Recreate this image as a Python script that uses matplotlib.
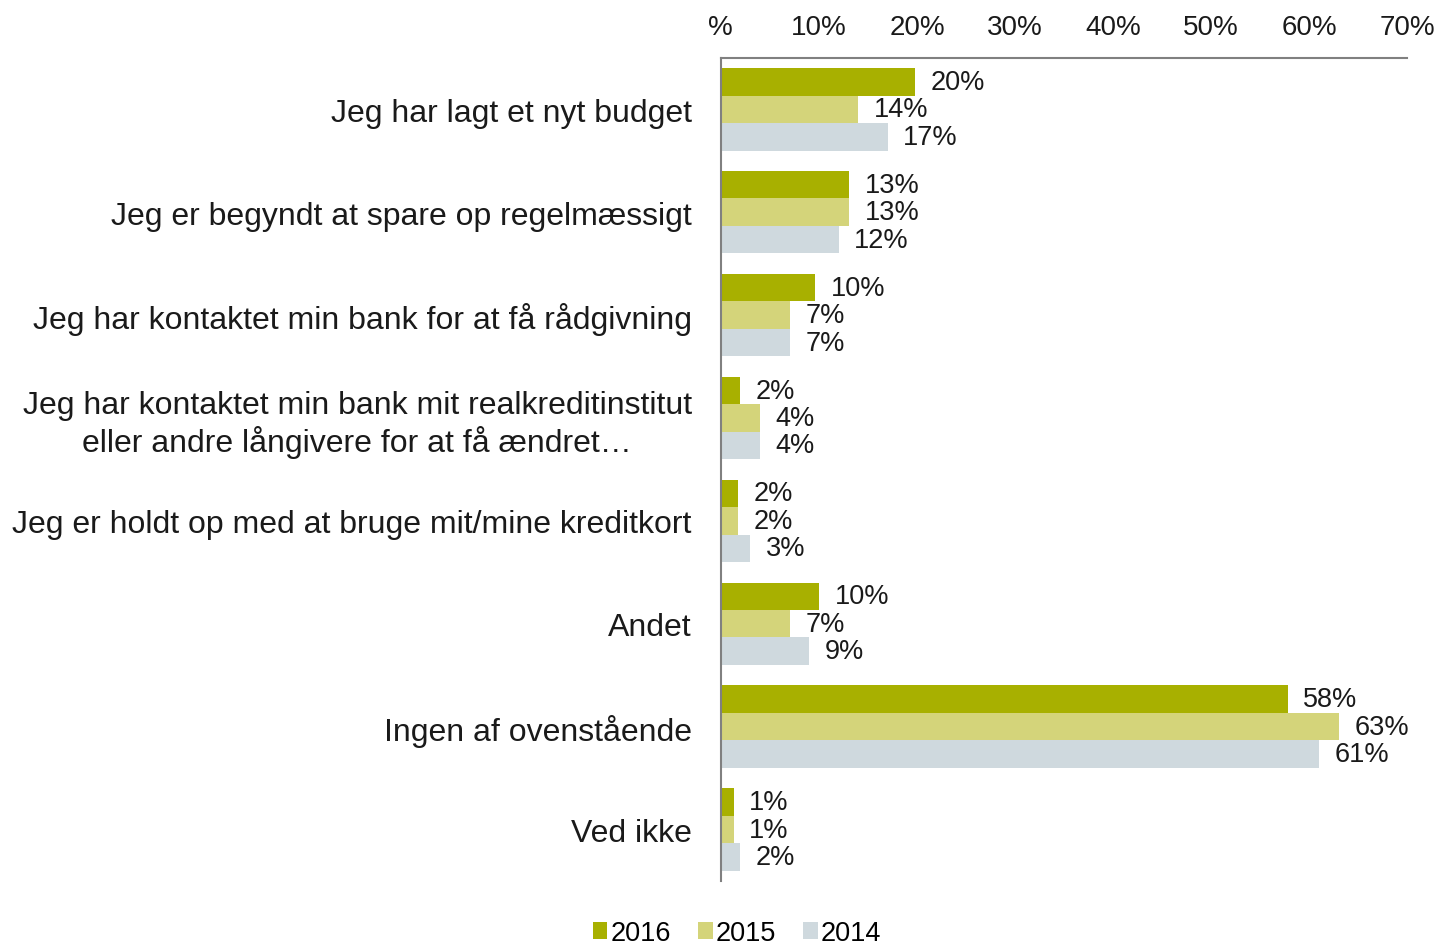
import matplotlib.pyplot as plt
import numpy as np

plt.rcParams['font.family'] = ['Liberation Sans', 'DejaVu Sans']

categories = [
    "Jeg har lagt et nyt budget",
    "Jeg er begyndt at spare op regelmæssigt",
    "Jeg har kontaktet min bank for at få rådgivning",
    "Jeg har kontaktet min bank mit realkreditinstitut\neller andre långivere for at få ændret…",
    "Jeg er holdt op med at bruge mit/mine kreditkort",
    "Andet",
    "Ingen af ovenstående",
    "Ved ikke",
]
years = ["2016", "2015", "2014"]
vals_2016 = [19.8, 13.1, 9.6, 1.9, 1.7, 10.0, 57.8, 1.3]
vals_2015 = [14.0, 13.1, 7.0, 4.0, 1.7, 7.0, 63.0, 1.3]
vals_2014 = [17.0, 12.0, 7.0, 4.0, 3.0, 9.0, 61.0, 1.9]
labels_2016 = ["20%", "13%", "10%", "2%", "2%", "10%", "58%", "1%"]
labels_2015 = ["14%", "13%", "7%", "4%", "2%", "7%", "63%", "1%"]
labels_2014 = ["17%", "12%", "7%", "4%", "3%", "9%", "61%", "2%"]
colors = ["#a8b000", "#d4d47a", "#cfd9de"]

series = [vals_2016, vals_2015, vals_2014]
series_labels = [labels_2016, labels_2015, labels_2014]

fig = plt.figure(figsize=(14.36, 9.45), dpi=100)
ax = fig.add_axes([0.502, 0.0667, 0.478, 0.871])

y = np.arange(len(categories))
h = 0.267
for i, (vals, labs) in enumerate(zip(series, series_labels)):
    pos = y - h + i * h
    ax.barh(pos, vals, height=h, color=colors[i], label=years[i])
    for p, v, l in zip(pos, vals, labs):
        ax.text(v + 1.6, p, l, va="center", ha="left", fontsize=19.5, color="#1a1a1a")

ax.set_xlim(0, 70)
ax.set_ylim(len(categories) - 0.5, -0.5)
ax.xaxis.tick_top()
ax.set_xticks(range(0, 71, 10))
ax.set_xticklabels(["%"] + [f"{t}%" for t in range(10, 71, 10)])
ax.set_yticks(y)
ax.set_yticklabels(categories, fontsize=23, multialignment="center")
ax.tick_params(axis="x", length=0, labelsize=20, pad=13, colors="#1a1a1a")
ax.tick_params(axis="y", length=0, pad=21, colors="#1a1a1a")
for s in ["right", "bottom"]:
    ax.spines[s].set_visible(False)
for s in ["top", "left"]:
    ax.spines[s].set_color("#808080")
    ax.spines[s].set_linewidth(1.5)

fig.legend(loc="lower center", bbox_to_anchor=(0.513, -0.028), ncol=3, frameon=False,
           fontsize=19.5, handlelength=0.55, handleheight=0.55, handletextpad=0.1,
           columnspacing=1.0)

fig.savefig("out.png", dpi=100)
